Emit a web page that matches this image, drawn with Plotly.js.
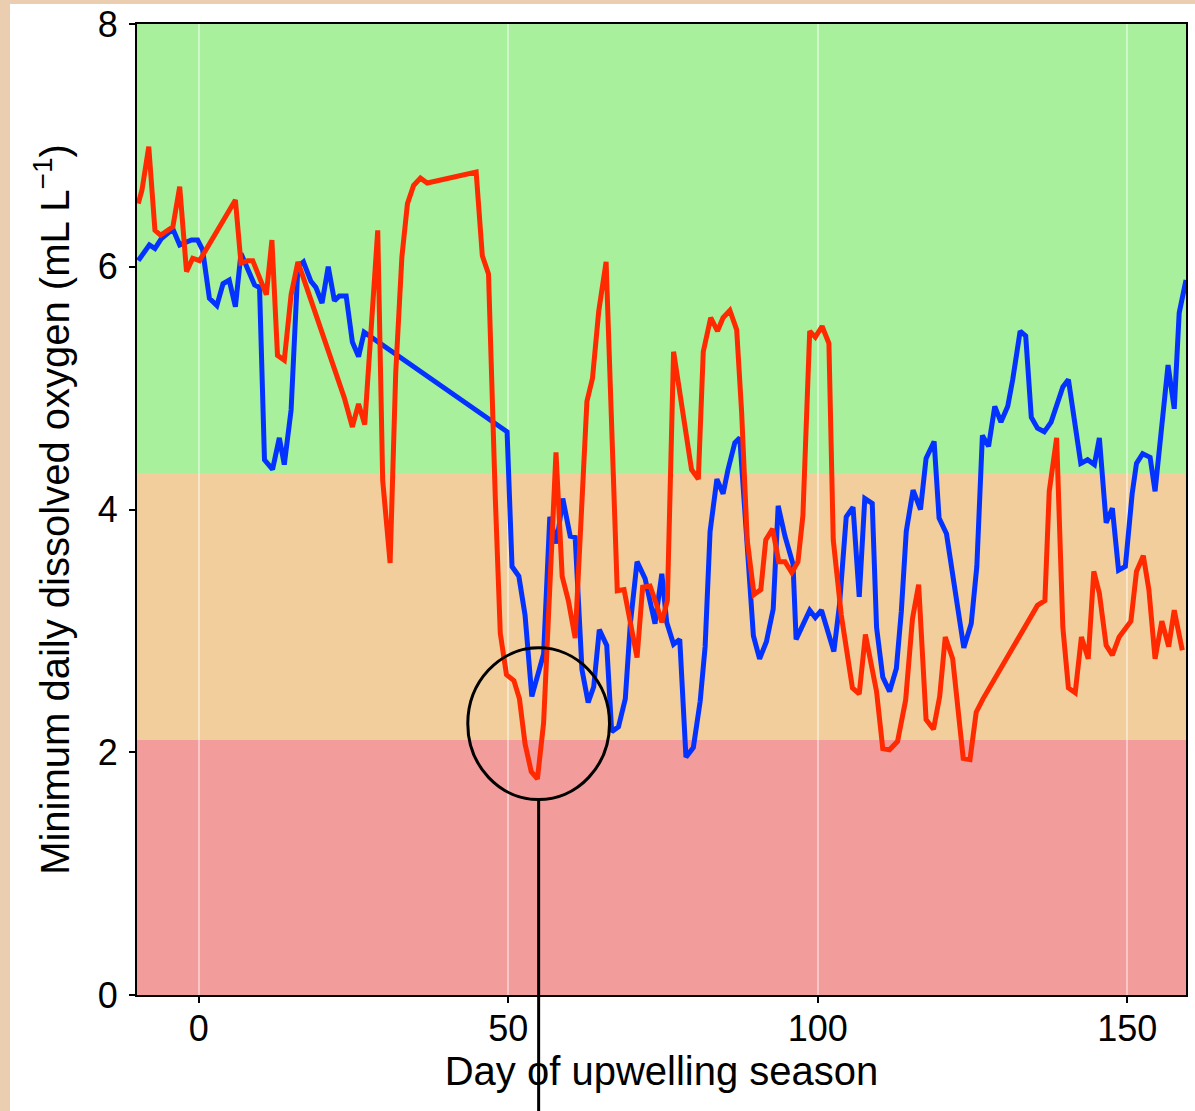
<!DOCTYPE html>
<html>
<head>
<meta charset="utf-8">
<script src="https://cdn.plot.ly/plotly-3.0.1.min.js"></script>
<style>
  html, body { margin: 0; padding: 0; background: #ebcdb0; width: 1195px; height: 1111px; overflow: hidden; }
  #chart { position: absolute; left: 10px; top: 4px; width: 1185px; height: 1107px; background: #ffffff; }
</style>
</head>
<body>
<div id="chart"></div>
<script>
// Day of upwelling season and minimum daily dissolved oxygen (mL/L)
const blueDays = [-9.8,-8,-7.1,-6.1,-4.2,-3.1,-1.2,-0.2,0.6,1.7,2.9,3.9,4.9,5.9,6.8,9.0,9.8,10.6,11.9,13.0,13.8,14.9,16.0,16.9,18.1,18.9,19.9,20.9,21.9,22.7,23.8,24.8,25.8,26.7,
  49.8,50.6,51.7,52.7,53.8,55.7,56.7,57.8,58.8,60.0,60.8,61.9,62.9,63.8,64.7,65.9,66.7,67.8,68.9,69.7,70.8,72.1,73.7,74.8,75.6,76.7,77.7,78.7,79.9,81.0,
  81.8,82.6,83.7,84.7,85.5,86.6,87.4,89.6,90.6,91.7,92.8,93.6,94.7,96.0,96.5,98.7,99.6,100.6,102.6,103.5,104.6,105.7,106.7,107.6,108.8,109.5,110.5,111.6,112.7,113.5,
  114.3,115.4,116.6,117.5,118.8,119.6,120.8,123.6,124.8,125.7,126.6,127.6,128.6,129.6,130.7,131.5,132.7,133.6,134.5,135.5,136.6,137.7,139.6,140.5,142.5,143.6,144.7,145.5,146.6,147.6,
  148.6,149.7,150.8,151.5,152.5,153.7,154.5,155.4,156.6,157.6,158.4,159.5];
const blueDO = [6.05,6.18,6.15,6.23,6.31,6.18,6.22,6.22,6.14,5.74,5.68,5.86,5.89,5.67,6.11,5.85,5.83,4.41,4.33,4.59,4.37,4.82,6.0,6.04,5.88,5.83,5.70,6.0,5.72,5.76,5.76,5.38,5.26,5.46,
  4.64,3.53,3.45,3.13,2.46,2.81,3.94,3.72,4.09,3.78,3.77,2.68,2.41,2.54,3.01,2.88,2.17,2.21,2.44,3.05,3.57,3.43,3.06,3.47,3.07,2.89,2.93,1.96,2.04,2.42,
  2.87,3.82,4.25,4.13,4.33,4.55,4.59,2.96,2.77,2.91,3.18,4.03,3.78,3.55,2.93,3.17,3.11,3.17,2.83,3.21,3.94,4.02,3.28,4.09,4.05,3.03,2.62,2.50,2.69,3.16,
  3.82,4.16,4.0,4.42,4.56,3.93,3.80,2.86,3.06,3.53,4.61,4.52,4.85,4.72,4.85,5.07,5.47,5.43,4.76,4.67,4.64,4.72,5.01,5.07,4.38,4.41,4.37,4.59,3.89,4.01,
  3.50,3.53,4.13,4.38,4.46,4.43,4.15,4.60,5.19,4.83,5.62,5.89];

const redDays = [-9.8,-9.2,-8.1,-7.1,-6.2,-4.2,-3.1,-2.0,-1.0,0.1,
  5.9,6.8,7.9,8.7,10.9,11.8,12.7,13.8,14.9,16.0,
  23.5,24.8,25.8,26.8,28.9,29.7,30.9,31.8,32.8,33.7,
  34.7,35.8,36.9,44.8,45.8,46.8,47.9,48.7,49.7,50.9,
  51.8,52.7,53.7,54.7,55.7,56.5,57.7,58.7,59.7,60.8,
  62.7,63.6,64.6,65.8,67.6,68.7,69.7,70.8,71.7,72.9,
  74.0,74.8,75.7,76.7,79.6,80.7,81.5,82.7,83.8,84.7,
  85.8,86.9,87.7,88.6,89.7,90.8,91.6,92.7,93.7,94.7,
  95.8,96.8,97.6,98.7,99.6,100.7,101.8,102.5,103.8,105.6,
  106.7,107.7,109.5,110.5,111.6,112.9,114.2,115.3,116.3,117.5,
  118.7,119.7,120.6,121.8,123.5,124.6,125.6,126.7,135.5,136.7,
  137.4,138.6,139.6,140.5,141.6,142.6,143.7,144.6,145.5,146.6,
  147.6,148.7,150.6,151.5,152.6,153.5,154.5,155.6,156.7,157.6,
  158.9];
const redDO = [6.52,6.63,6.99,6.30,6.26,6.33,6.66,5.96,6.07,6.05,
  6.55,6.03,6.05,6.05,5.77,6.22,5.27,5.23,5.77,6.04,
  4.92,4.68,4.87,4.70,6.30,4.24,3.56,5.12,6.08,6.52,
  6.67,6.73,6.69,6.78,6.09,5.94,4.09,2.98,2.64,2.59,
  2.44,2.07,1.84,1.78,2.24,3.18,4.47,3.45,3.25,2.94,
  4.89,5.08,5.63,6.04,3.33,3.34,3.08,2.78,3.36,3.37,
  3.21,3.07,3.25,5.30,4.33,4.25,5.30,5.58,5.47,5.58,
  5.64,5.48,4.80,3.75,3.30,3.34,3.75,3.84,3.57,3.57,
  3.48,3.57,3.95,5.47,5.42,5.51,5.37,3.75,3.13,2.53,
  2.48,2.97,2.50,2.03,2.02,2.09,2.43,3.10,3.38,2.27,
  2.19,2.46,2.95,2.77,1.95,1.94,2.33,2.44,3.21,3.25,
  4.15,4.59,3.03,2.53,2.49,2.95,2.77,3.49,3.31,2.88,
  2.80,2.95,3.08,3.49,3.62,3.34,2.77,3.08,2.87,3.17,
  2.84];

// Oxygen status bands (mL/L)
const bandEdges = [0, 2.1, 4.3, 8];
const bandColors = ['#f39c9c', '#f2ce9d', '#a9f09d'];

const xTicks = [0, 50, 100, 150];
const yTicks = [0, 2, 4, 6, 8];
const yMax = 8;

// Highlighted event (circle) around the red minimum
const eventDay = 54.9, eventLo = 1.61, eventHi = 2.86, eventHalfWidth = 11.45;

const FONT = 'Liberation Sans, Arial, Helvetica, sans-serif';

const shapes = [];
for (let i = 0; i < bandColors.length; i++) {
  shapes.push({type: 'rect', xref: 'paper', yref: 'y', x0: 0, x1: 1, y0: bandEdges[i], y1: bandEdges[i + 1],
    fillcolor: bandColors[i], line: {width: 0}, layer: 'below'});
}
shapes.push({type: 'circle', xref: 'x', yref: 'y',
  x0: eventDay - eventHalfWidth, x1: eventDay + eventHalfWidth, y0: eventLo, y1: eventHi,
  line: {color: '#000000', width: 3}, layer: 'above'});
// pointer line from the circle down past the bottom of the figure
shapes.push({type: 'line', xref: 'x', yref: 'paper', x0: eventDay, x1: eventDay, y0: eventLo / yMax, y1: -0.3,
  line: {color: '#000000', width: 3}, layer: 'above'});

const traces = [
  {x: blueDays, y: blueDO, type: 'scatter', mode: 'lines', line: {color: '#0433ff', width: 5}, hoverinfo: 'skip'},
  {x: redDays, y: redDO, type: 'scatter', mode: 'lines', line: {color: '#ff2a00', width: 5}, hoverinfo: 'skip'}
];

const layout = {
  width: 1185, height: 1107,
  margin: {l: 127, r: 9, t: 20, b: 116},
  paper_bgcolor: '#ffffff',
  plot_bgcolor: '#ffffff',
  showlegend: false,
  font: {family: FONT, color: '#000000', size: 36},
  xaxis: {
    range: [-10, 159.5], tickvals: xTicks, ticktext: xTicks.map(String),
    showgrid: true, gridcolor: 'rgba(255,255,255,0.45)', gridwidth: 2, zeroline: false,
    showline: true, linecolor: '#000000', linewidth: 2, mirror: true,
    ticks: 'outside', ticklen: 6, tickwidth: 2, tickcolor: '#000000', ticklabelstandoff: -5,
    ticklabeloverflow: 'allow',
    tickfont: {family: FONT, size: 36, color: '#000000'},
    title: {text: 'Day of upwelling season', font: {family: FONT, size: 40, color: '#000000'}, standoff: 6}
  },
  yaxis: {
    range: [0, yMax], tickvals: yTicks, ticktext: yTicks.map(String),
    showgrid: false, zeroline: false,
    showline: true, linecolor: '#000000', linewidth: 2, mirror: true,
    ticks: 'outside', ticklen: 6, tickwidth: 2, tickcolor: '#000000', ticklabelstandoff: 4,
    ticklabeloverflow: 'allow',
    tickfont: {family: FONT, size: 36, color: '#000000'},
    title: {text: 'Minimum daily dissolved oxygen (mL L<sup>\u22121</sup>)', font: {family: FONT, size: 40, color: '#000000'}, standoff: 16}
  },
  shapes: shapes
};

Plotly.newPlot('chart', traces, layout, {staticPlot: true, displayModeBar: false});
</script>
</body>
</html>
